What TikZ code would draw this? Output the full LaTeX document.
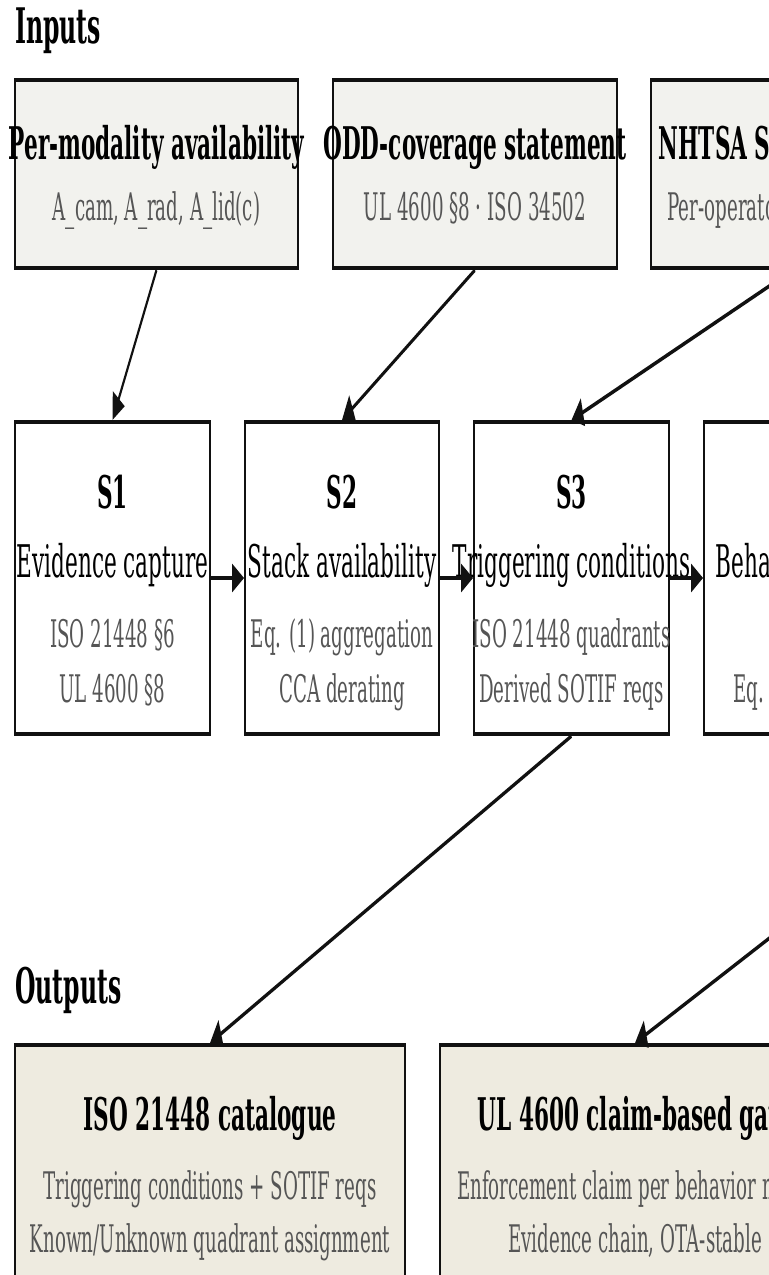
\documentclass[tikz,border=0pt]{standalone}
\usepackage{fontspec}
\setmainfont{DejaVu Serif}
\usetikzlibrary{arrows.meta,fit}
\definecolor{inbg}{HTML}{F2F2EE}
\definecolor{outbg}{HTML}{EEEBE0}
\definecolor{subgray}{HTML}{555555}
\definecolor{edgec}{HTML}{111111}
\begin{document}
\begin{tikzpicture}[
  box/.style={draw=edgec, line width=2pt, inner sep=0pt},
  ttl/.style={font=\bfseries\fontsize{22.5}{27}\selectfont, inner sep=0pt, anchor=base},
  mid/.style={font=\fontsize{22.5}{27}\selectfont, inner sep=0pt, anchor=base},
  sub/.style={font=\fontsize{19}{23}\selectfont, text=subgray, inner sep=0pt, anchor=base},
  hdr/.style={font=\bfseries\fontsize{24.5}{29}\selectfont, inner sep=0pt, anchor=base west},
  conn/.style={draw=edgec, line width=2pt, -{Triangle[length=12.5pt,width=14pt]}},
  hconn/.style={draw=edgec, line width=1.75pt, -{Triangle[length=12.5pt,width=14pt]}},
]
\useasboundingbox (0,0) rectangle (384.5pt,-637.5pt);
\clip (0,0) rectangle (384.5pt,-637.5pt);
\begin{scope}[x=1.04167pt, y=-0.5pt, transform canvas={xscale=0.48}]
% headers
\node[hdr] (hin) at (15,43) {Inputs};
\node[hdr] (hout) at (15,1003) {Outputs};
% input boxes
\node[box, fill=inbg, fit={(15,80) (298,268)}] (in1) {};
\node[box, fill=inbg, fit={(333,80) (617,268)}] (in2) {};
\node[box, fill=inbg, fit={(651,80) (935,268)}] (in3) {};
\node[ttl] (in1t) at (156.5,159) {Per-modality availability};
\node[sub] (in1s) at (156.5,220) {A\_cam, A\_rad, A\_lid(c)};
\node[ttl] (in2t) at (475,159) {ODD-coverage statement};
\node[sub] (in2s) at (475,220) {UL 4600 §8 · ISO 34502};
\node[ttl] (in3t) at (793,159) {NHTSA SGO incidents};
\node[sub] (in3s) at (793,220) {Per-operator incident rates};
% stage boxes
\node[box, fill=white, fit={(15,422) (210,734)}] (s1) {};
\node[box, fill=white, fit={(245,422) (439,734)}] (s2) {};
\node[box, fill=white, fit={(474,422) (669,734)}] (s3) {};
\node[box, fill=white, fit={(704,422) (899,734)}] (s4) {};
\node[ttl] (s1a) at (112.5,508) {S1};
\node[mid] (s1b) at (112.5,577) {Evidence capture};
\node[sub] (s1c) at (112.5,647) {ISO 21448 §6};
\node[sub] (s1d) at (112.5,702) {UL 4600 §8};
\node[ttl] (s2a) at (342,508) {S2};
\node[mid] (s2b) at (342,577) {Stack availability};
\node[sub] (s2c) at (342,647) {Eq. (1) aggregation};
\node[sub] (s2d) at (342,702) {CCA derating};
\node[ttl] (s3a) at (571.5,508) {S3};
\node[mid] (s3b) at (571.5,577) {Triggering conditions};
\node[sub] (s3c) at (571.5,647) {ISO 21448 quadrants};
\node[sub] (s3d) at (571.5,702) {Derived SOTIF reqs};
\node[ttl] (s4a) at (801.5,508) {S4};
\node[mid] (s4b) at (801.5,577) {Behavior model};
\node[sub] (s4d) at (801.5,702) {Eq. (2) margin};
% output boxes
\node[box, fill=outbg, fit={(15,1045) (405,1340)}] (o1) {};
\node[box, fill=outbg, fit={(440,1045) (830,1340)}] (o2) {};
\node[ttl] (o1a) at (210,1130) {ISO 21448 catalogue};
\node[sub] (o1b) at (210,1199) {Triggering conditions + SOTIF reqs};
\node[sub] (o1c) at (210,1252) {Known/Unknown quadrant assignment};
\node[ttl] (o2a) at (635,1130) {UL 4600 claim-based gate};
\node[sub] (o2b) at (635,1199) {Enforcement claim per behavior mode};
\node[sub] (o2c) at (635,1252) {Evidence chain, OTA-stable};
% connectors
\coordinate (s5b) at (1031,734);
\draw[conn] (in1.south) -- (s1.north);
\draw[conn] (in2.south) -- (s2.north);
\draw[conn] (in3.south) -- (s3.north);
\draw[hconn] (s1.east) -- (s2.west);
\draw[hconn] (s2.east) -- (s3.west);
\draw[hconn] (s3.east) -- (s4.west);
\draw[conn] (s3.south) -- (o1.north);
\draw[conn] (s5b) -- (o2.north);
\end{scope}
\end{tikzpicture}
\end{document}
